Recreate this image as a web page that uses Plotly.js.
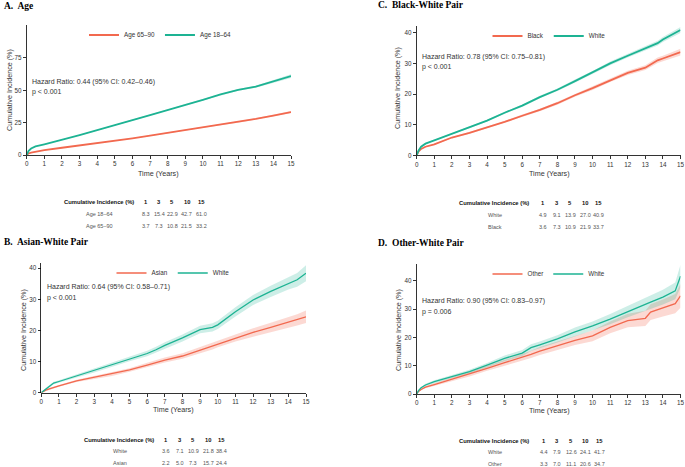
<!DOCTYPE html>
<html>
<head>
<meta charset="utf-8">
<script src="https://cdn.plot.ly/plotly-3.0.1.min.js"></script>
<style>html,body{margin:0;padding:0;background:#fff;}#chart{width:685px;height:467px;}</style>
</head>
<body>
<div id="chart"></div>
<script>
// ---------- DATA ----------
// Panel A: Age
const aTime   = [0, 0.1, 0.25, 0.5, 1, 2, 3, 4, 5, 6, 7, 8, 9, 10, 11, 12, 13, 14, 15];
const aYoung  = [0, 3.0, 5.0, 6.6, 8.3, 11.6, 15.4, 19.2, 22.9, 26.9, 30.9, 34.7, 39.0, 42.7, 46.8, 50.4, 52.8, 57.0, 61.0];
const aOld    = [0, 1.2, 1.9, 2.6, 3.7, 5.6, 7.3, 9.0, 10.8, 12.8, 14.9, 17.0, 19.3, 21.5, 23.4, 25.5, 27.9, 30.4, 33.2];
const aYoungCI= [0, 0.2, 0.2, 0.2, 0.2, 0.3, 0.3, 0.3, 0.4, 0.4, 0.4, 0.5, 0.5, 0.6, 0.6, 0.7, 0.8, 1.0, 1.4];
const aOldCI  = [0, 0.1, 0.1, 0.1, 0.2, 0.2, 0.2, 0.2, 0.3, 0.3, 0.3, 0.3, 0.4, 0.4, 0.4, 0.5, 0.5, 0.6, 0.8];

// Panel B: Asian-White
const bTime   = [0, 0.25, 0.5, 0.7, 1, 2, 3, 4, 5, 6, 6.5, 7, 8, 9, 9.7, 10, 11, 12, 13, 14, 14.5, 15];
const bWhite  = [0, 1.2, 2.2, 3.1, 3.6, 5.4, 7.1, 8.9, 10.9, 12.6, 13.8, 15.2, 17.6, 20.3, 21.0, 21.8, 26.0, 29.8, 32.6, 35.2, 36.3, 38.4];
const bAsian  = [0, 0.8, 1.3, 1.7, 2.2, 3.8, 5.0, 6.0, 7.3, 8.9, 9.7, 10.5, 11.8, 13.7, 15.0, 15.7, 17.7, 19.4, 21.0, 22.6, 23.4, 24.4];
const bWhiteCI= [0, 0.3, 0.4, 0.4, 0.4, 0.5, 0.6, 0.7, 0.8, 0.9, 1.0, 1.0, 1.1, 1.2, 1.3, 1.3, 1.5, 1.6, 1.8, 2.0, 2.2, 2.6];
const bAsianCI= [0, 0.2, 0.3, 0.3, 0.3, 0.4, 0.5, 0.6, 0.6, 0.7, 0.8, 0.8, 0.9, 1.0, 1.1, 1.1, 1.2, 1.3, 1.5, 1.7, 1.8, 2.0];

// Panel C: Black-White
const cTime   = [0, 0.1, 0.25, 0.5, 1, 2, 3, 4, 5, 6, 7, 8, 9, 10, 11, 12, 13, 13.7, 14, 15];
const cWhite  = [0, 1.5, 2.8, 3.8, 4.9, 7.1, 9.1, 11.3, 13.9, 16.2, 19.0, 21.4, 24.2, 27.0, 30.0, 32.5, 35.0, 36.6, 37.8, 40.9];
const cBlack  = [0, 1.2, 2.1, 2.8, 3.6, 5.8, 7.3, 9.0, 10.9, 12.9, 14.8, 17.0, 19.6, 21.9, 24.5, 26.9, 28.6, 31.0, 31.6, 33.7];
const cWhiteCI= [0, 0.1, 0.1, 0.2, 0.2, 0.2, 0.3, 0.3, 0.3, 0.4, 0.4, 0.4, 0.5, 0.5, 0.6, 0.6, 0.7, 0.8, 0.8, 1.0];
const cBlackCI= [0, 0.1, 0.1, 0.2, 0.2, 0.2, 0.3, 0.3, 0.3, 0.4, 0.4, 0.5, 0.5, 0.6, 0.6, 0.7, 0.8, 0.9, 0.9, 1.1];

// Panel D: Other-White
const dTime   = [0, 0.1, 0.25, 0.5, 1, 2, 3, 4, 5, 6, 6.5, 7, 8, 9, 10, 11, 12, 12.5, 13, 13.3, 14, 14.7, 15];
const dWhite  = [0, 1.2, 2.2, 3.2, 4.4, 6.2, 7.9, 10.2, 12.6, 14.5, 16.4, 17.4, 19.5, 22.0, 24.1, 26.5, 29.2, 30.4, 31.9, 32.5, 34.3, 36.5, 41.7];
const dOther  = [0, 0.9, 1.6, 2.4, 3.3, 5.2, 7.0, 9.1, 11.1, 13.0, 14.0, 15.2, 17.1, 19.0, 20.6, 23.6, 26.0, 26.4, 26.8, 29.0, 30.4, 32.0, 34.7];
const dWhiteCI= [0, 0.2, 0.3, 0.4, 0.5, 0.6, 0.7, 0.8, 1.0, 1.1, 1.2, 1.2, 1.3, 1.5, 1.6, 1.8, 2.0, 2.1, 2.3, 2.4, 2.6, 3.0, 4.0];
const dOtherCI= [0, 0.2, 0.3, 0.4, 0.5, 0.6, 0.8, 0.9, 1.0, 1.2, 1.3, 1.4, 1.5, 1.7, 1.9, 2.1, 2.4, 2.5, 2.7, 2.8, 3.0, 3.4, 4.2];

// Tables
const tableYears = ["1", "3", "5", "10", "15"];
const aRows = ["Age 18–64", "Age 65–90"];
const aVals = [["8.3","15.4","22.9","42.7","61.0"], ["3.7","7.3","10.8","21.5","33.2"]];
const bRows = ["White", "Asian"];
const bVals = [["3.6","7.1","10.9","21.8","38.4"], ["2.2","5.0","7.3","15.7","24.4"]];
const cRows = ["White", "Black"];
const cVals = [["4.9","9.1","13.9","27.0","40.9"], ["3.6","7.3","10.9","21.9","33.7"]];
const dRows = ["White", "Other"];
const dVals = [["4.4","7.9","12.6","24.1","41.7"], ["3.3","7.0","11.1","20.6","34.7"]];

const titles = ["A.  Age", "B.  Asian-White Pair", "C.  Black-White Pair", "D.  Other-White Pair"];
const hrText = ["Hazard Ratio: 0.44 (95% CI: 0.42–0.46)", "Hazard Ratio: 0.64 (95% CI: 0.58–0.71)",
                "Hazard Ratio: 0.78 (95% CI: 0.75–0.81)", "Hazard Ratio: 0.90 (95% CI: 0.83–0.97)"];
const pText  = ["p < 0.001", "p < 0.001", "p < 0.001", "p = 0.006"];
const aTicks = [0, 25, 50, 75];
const bcdTicks = [0, 10, 20, 30, 40];

// ---------- STYLE ----------
const W = 685, H = 467;
const RED = "#F2694F", GREEN = "#1DB393";
const RED_F = "rgba(242,105,79,0.25)", GREEN_F = "rgba(29,179,147,0.22)";
const SANS = "Liberation Sans, Arial, sans-serif";
const SERIF = "Liberation Serif, Times New Roman, serif";
const TXT = "#333";
const px = v => v / W;
const py = v => 1 - v / H;

// panel geometry in pixels: [left, right, top, bottom]
const panels = [
  {box:[26.7, 291, 25, 155],   ymax:100.5, ticks:aTicks, t:aTime, s:[[ "Age 65–90", aOld, aOldCI, RED, RED_F],[ "Age 18–64", aYoung, aYoungCI, GREEN, GREEN_F]], lw:1.8,
   title:[2,6], leg:[160,35], hr:[30,82], ytit:[9,90], xtit:[158,173], tab:{x0:62, cols:[146,159,172,187,201], y:202, dy:12, rowc:100, rows:aRows, vals:aVals}},
  {box:[41.3, 306, 263.3, 392.7], ymax:41.6, ticks:bcdTicks, t:bTime, s:[[ "Asian", bAsian, bAsianCI, RED, RED_F],[ "White", bWhite, bWhiteCI, GREEN, GREEN_F]], lw:1.3,
   title:[2,242], leg:[173,273], hr:[45,287], ytit:[23,330], xtit:[173,409], tab:{x0:82, cols:[166,180,193,208,221], y:439.5, dy:11.5, rowc:120, rows:bRows, vals:bVals}},
  {box:[416.7, 680.5, 26, 155.3], ymax:42.2, ticks:bcdTicks, t:cTime, s:[[ "Black", cBlack, cBlackCI, RED, RED_F],[ "White", cWhite, cWhiteCI, GREEN, GREEN_F]], lw:1.8,
   title:[376,5], leg:[549,36], hr:[420,57], ytit:[398,88], xtit:[549,173], tab:{x0:457, cols:[543,557,570,585,598], y:203, dy:12, rowc:495, rows:cRows, vals:cVals}},
  {box:[416.7, 680.5, 264.3, 394], ymax:45.9, ticks:bcdTicks, t:dTime, s:[[ "Other", dOther, dOtherCI, RED, RED_F],[ "White", dWhite, dWhiteCI, GREEN, GREEN_F]], lw:1.3,
   title:[376,243], leg:[549,274], hr:[420,301], ytit:[398,330], xtit:[549,410], tab:{x0:457, cols:[544,557,571,585,599], y:440.5, dy:11.5, rowc:495, rows:dRows, vals:dVals}}
];

const data = [];
const annotations = [];
const layout = {
  width: W, height: H, autosize: false,
  margin: {l:0, r:0, t:0, b:0, pad:0},
  paper_bgcolor: "#fff", plot_bgcolor: "#fff",
  font: {family: SANS, color: TXT, size: 7},
  showlegend: true,
  annotations: annotations
};

function ann(x, y, text, opts) {
  annotations.push(Object.assign({
    xref: "paper", yref: "paper", x: px(x), y: py(y), text: text, showarrow: false,
    xanchor: "center", yanchor: "middle", font: {family: SANS, size: 7, color: TXT}
  }, opts || {}));
}

panels.forEach((p, i) => {
  const n = i + 1;
  const xa = n === 1 ? "xaxis" : "xaxis" + n;
  const ya = n === 1 ? "yaxis" : "yaxis" + n;
  const xr = n === 1 ? "x" : "x" + n;
  const yr = n === 1 ? "y" : "y" + n;
  const lg = n === 1 ? "legend" : "legend" + n;
  const [l, r, t, b] = p.box;

  layout[xa] = {
    domain: [px(l), px(r)], anchor: yr, range: [0, 15], dtick: 1, tick0: 0,
    ticks: "outside", ticklen: 3, tickwidth: 0.8, tickcolor: "#000",
    showline: true, linecolor: "#000", linewidth: 0.8, zeroline: false, showgrid: false,
    tickfont: {family: SANS, size: 6.3, color: TXT}, fixedrange: true, ticklabeloverflow: "allow"
  };
  layout[ya] = {
    domain: [py(b), py(t)], anchor: xr, range: [0, p.ymax], tickmode: "array", tickvals: p.ticks,
    ticks: "outside", ticklen: 3, tickwidth: 0.8, tickcolor: "#000",
    showline: true, linecolor: "#000", linewidth: 0.8, zeroline: false, showgrid: false,
    tickfont: {family: SANS, size: 6.3, color: TXT}, fixedrange: true
  };
  layout[lg] = {
    orientation: "h", x: px(p.leg[0]), y: py(p.leg[1]), xanchor: "center", yanchor: "middle",
    xref: "paper", yref: "paper",
    font: {family: SANS, size: 6.3, color: TXT}, bgcolor: "rgba(0,0,0,0)",
    itemwidth: 30, tracegroupgap: 0, itemclick: false, itemdoubleclick: false
  };

  p.s.forEach(([name, vals, ci, col, fcol]) => {
    const upper = vals.map((v, k) => v + ci[k]);
    const lower = vals.map((v, k) => Math.max(0, v - ci[k]));
    data.push({
      type: "scatter", mode: "lines", xaxis: xr, yaxis: yr,
      x: p.t.concat(p.t.slice().reverse()),
      y: upper.concat(lower.slice().reverse()),
      fill: "toself", fillcolor: fcol, line: {width: 0, color: fcol},
      showlegend: false, hoverinfo: "skip"
    });
  });
  p.s.forEach(([name, vals, ci, col, fcol]) => {
    data.push({
      type: "scatter", mode: "lines", xaxis: xr, yaxis: yr, legend: lg,
      x: p.t, y: vals, name: name,
      line: {color: col, width: p.lw}, hoverinfo: "skip"
    });
  });

  // panel title
  ann(p.title[0], p.title[1], "<b>" + titles[i] + "</b>", {xanchor: "left", font: {family: SERIF, size: 9.5, color: "#000"}});
  // hazard ratio text
  ann(p.hr[0], p.hr[1], hrText[i], {xanchor: "left", font: {family: SANS, size: 7, color: TXT}});
  ann(p.hr[0], p.hr[1] + 10.5, pText[i], {xanchor: "left", font: {family: SANS, size: 7, color: TXT}});
  // axis titles
  ann(p.ytit[0], p.ytit[1], "Cumulative Incidence (%)", {textangle: -90, font: {family: SANS, size: 7.2, color: TXT}});
  ann(p.xtit[0], p.xtit[1], "Time (Years)", {font: {family: SANS, size: 7.2, color: TXT}});
  // table
  const tb = p.tab;
  ann(tb.x0, tb.y, "<b>Cumulative Incidence (%)</b>", {xanchor: "left", font: {family: SANS, size: 5.8, color: "#111"}});
  tableYears.forEach((yr, k) => ann(tb.cols[k], tb.y, "<b>" + yr + "</b>", {font: {family: SANS, size: 5.8, color: "#111"}}));
  tb.rows.forEach((rn, ri) => {
    const yy = tb.y + tb.dy * (ri + 1);
    ann(tb.rowc, yy, rn, {font: {family: SANS, size: 5.5, color: "#555"}});
    tb.vals[ri].forEach((v, k) => ann(tb.cols[k], yy, v, {font: {family: SANS, size: 5.5, color: "#555"}}));
  });
});

Plotly.newPlot("chart", data, layout, {staticPlot: true, displayModeBar: false});
</script>
</body>
</html>
